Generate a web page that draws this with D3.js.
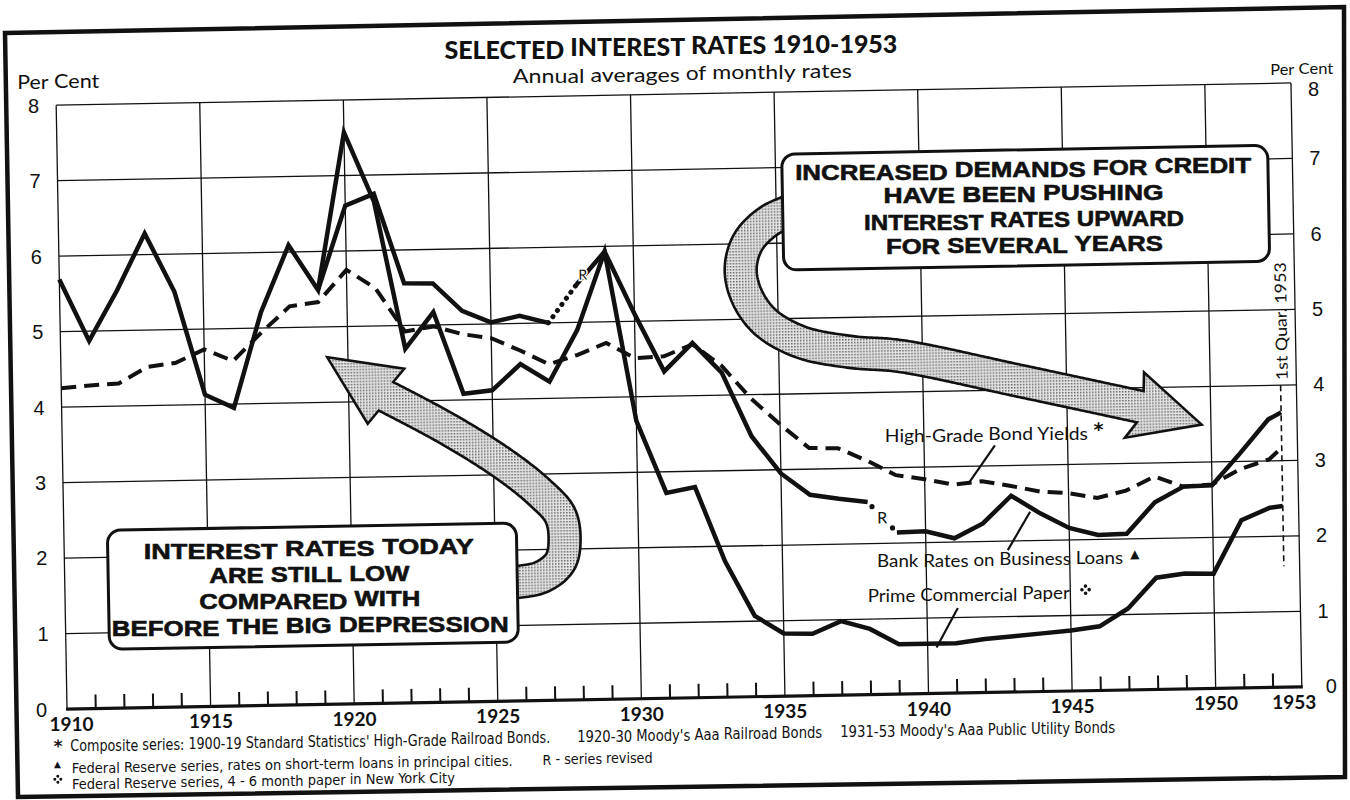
<!DOCTYPE html>
<html>
<head>
<meta charset="utf-8">
<script src="https://cdn.jsdelivr.net/npm/d3@7"></script>
<style>
  body { margin: 0; background: #fff; }
  svg { display: block; }
</style>
</head>
<body>
<script>
// values, per cent (annual averages of monthly rates)
const years = [1910, 1911, 1912, 1913, 1914, 1915, 1916, 1917, 1918, 1919,
               1920, 1921, 1922, 1923, 1924, 1925, 1926, 1927, 1928, 1929,
               1930, 1931, 1932, 1933, 1934, 1935, 1936, 1937, 1938, 1939,
               1940, 1941, 1942, 1943, 1944, 1945, 1946, 1947, 1948, 1949,
               1950, 1951, 1952];
const q1Pos = 1952.45;   // "1st Quar. 1953" point sits just right of 1952
const periods = years.concat([q1Pos]);

const bondYields = [4.25, 4.28, 4.30, 4.51, 4.56, 4.73, 4.57, 4.94, 5.28, 5.33,
                    5.75, 5.50, 4.92, 4.98, 4.87, 4.81, 4.64, 4.45, 4.57, 4.72,
                    4.51, 4.53, 4.68, 4.39, 3.95, 3.60, 3.28, 3.27, 3.10, 2.90,
                    2.84, 2.76, 2.80, 2.73, 2.65, 2.62, 2.55, 2.64, 2.82, 2.68,
                    2.70, 2.90, 3.02, 3.17];

const paperRates = [5.69, 4.87, 5.53, 6.28, 5.50, 4.13, 3.95, 5.21, 6.09, 5.49,
                    7.57, 6.65, 4.69, 5.17, 4.08, 4.12, 4.46, 4.22, 4.90, 5.93,
                    3.68, 2.72, 2.79, 1.80, 1.07, 0.83, 0.82, 0.98, 0.87, 0.66,
                    0.66, 0.66, 0.71, 0.74, 0.77, 0.80, 0.85, 1.08, 1.48, 1.53,
                    1.52, 2.22, 2.38, 2.40];

// bank rates begin in 1919
const bankStart = 9;
const bankRates = [5.49,
                   6.60, 6.75, 5.56, 5.55, 5.18, 5.02, 5.10, 5.00, 5.50, 5.93,
                   5.10, 4.33, 4.70, 4.30, 3.45, 2.95, 2.66, 2.60, 2.55, 2.14,
                   2.15, 2.05, 2.24, 2.60, 2.36, 2.16, 2.06, 2.07, 2.48, 2.68,
                   2.69, 3.11, 3.55, 3.64];
const revisedYears = [1927, 1938];   // bank series revised: segment from this year is dotted

const yTicks = [0, 1, 2, 3, 4, 5, 6, 7, 8];
const gridYears = [1910, 1915, 1920, 1925, 1930, 1935, 1940, 1945, 1950, 1953];
const yearLabels = ["1910", "1915", "1920", "1925", "1930", "1935", "1940", "1945", "1950", "1953"];

const INK = "#111";
const W = 1350, H = 800;
const TILT = 1.03;   // the scan is turned by about a degree

const svg = d3.select("body").append("svg")
    .attr("width", W)
    .attr("height", H);

svg.append("rect").attr("width", W).attr("height", H).attr("fill", "#fff");

const defs = svg.append("defs");
const pat = defs.append("pattern")
    .attr("id", "stipple")
    .attr("width", 3).attr("height", 3)
    .attr("patternUnits", "userSpaceOnUse");
pat.append("rect").attr("width", 3).attr("height", 3).attr("fill", "#e4e4e4");
pat.append("rect").attr("width", 1.5).attr("height", 1.5).attr("fill", "#666");

// outer frame of the page (scan is slightly skewed)
svg.append("path")
    .attr("d", "M5,33 L1344,7 L1345,777 L18,797 Z")
    .attr("fill", "none")
    .attr("stroke", INK)
    .attr("stroke-width", 4.5)
    .attr("stroke-linejoin", "miter");

const g = svg.append("g").attr("transform", `rotate(${-TILT},679,396)`);

const x = d3.scaleLinear().domain([1910, 1953]).range([61.5, 1296.5]);
const y = d3.scaleLinear().domain([0, 8]).range([698, 94]);

const LATO = "Lato, 'DejaVu Sans', sans-serif";
const ARIAL = "'Liberation Sans', Arial, sans-serif";
const NARROW = "'Liberation Sans Narrow', 'DejaVu Sans Condensed', 'Liberation Sans', sans-serif";

function styleText(sel, st) {
    sel.attr("font-family", st.family).attr("font-size", st.size).attr("fill", INK);
    if (st.weight) sel.attr("font-weight", st.weight);
    if (st.stroke) sel.attr("stroke", INK).attr("stroke-width", st.stroke);
    return sel;
}

// words placed one by one along the tilted baseline, glyphs kept upright,
// whole line stretched to the measured width (single spaces only)
function spread(xp, yp, anchor, str, width, st) {
    const probe = g.append("text").call(styleText, st).text(str);
    const node = probe.node();
    const k = width / node.getComputedTextLength();
    const x0 = anchor === "middle" ? xp - width / 2 : xp;
    const words = [];
    let idx = 0;
    str.split(" ").forEach(w => {
        const off = idx > 0 ? node.getSubStringLength(0, idx) : 0;
        words.push({ w: w, off: off, wl: node.getSubStringLength(idx, w.length) });
        idx += w.length + 1;
    });
    probe.remove();
    words.forEach(d => {
        const px = x0 + d.off * k;
        g.append("text")
            .attr("x", px).attr("y", yp)
            .attr("transform", `rotate(${TILT},${px},${yp})`)
            .attr("textLength", d.wl * k).attr("lengthAdjust", "spacingAndGlyphs")
            .call(styleText, st)
            .text(d.w);
    });
}

// titles
spread(677, 54.5, "middle", "SELECTED INTEREST RATES 1910-1953", 453,
    { family: LATO, size: 25, weight: 900 });
spread(688, 80, "middle", "Annual averages of monthly rates", 339,
    { family: LATO, size: 20 });
spread(23, 77, "start", "Per Cent", 82, { family: LATO, size: 19 });
spread(1276, 85.5, "start", "Per Cent", 63, { family: LATO, size: 16 });

// grid
g.selectAll(".hgrid").data(yTicks.slice(1)).join("line")
    .attr("x1", x(1910)).attr("x2", x(1953))
    .attr("y1", d => y(d)).attr("y2", d => y(d))
    .attr("stroke", INK).attr("stroke-width", 1.3);

g.selectAll(".vgrid").data(gridYears).join("line")
    .attr("x1", d => x(d)).attr("x2", d => x(d))
    .attr("y1", y(0)).attr("y2", y(8))
    .attr("stroke", INK).attr("stroke-width", 1.3);

g.append("line")
    .attr("x1", x(1910) - 1).attr("x2", x(1953) + 1)
    .attr("y1", y(0)).attr("y2", y(0))
    .attr("stroke", INK).attr("stroke-width", 3.2);

g.selectAll(".tick").data(years.filter(d => gridYears.indexOf(d) < 0)).join("line")
    .attr("x1", d => x(d)).attr("x2", d => x(d))
    .attr("y1", y(0)).attr("y2", y(0) - 14)
    .attr("stroke", INK).attr("stroke-width", 2);

// axis labels
const yLeftX = d => d === 0 ? 36 : 39;
const yRightX = d => d === 0 ? 1326 : 1319;
const yRightY = d => d === 8 ? y(d) + 6 : y(d);

g.selectAll(".ylabL").data(yTicks).join("text")
    .attr("x", yLeftX).attr("y", d => y(d) + 7)
    .attr("transform", d => `rotate(${TILT},${yLeftX(d)},${y(d)})`)
    .attr("text-anchor", "middle")
    .attr("font-family", ARIAL).attr("font-size", 20)
    .attr("fill", INK)
    .text(d => d);

g.selectAll(".ylabR").data(yTicks).join("text")
    .attr("x", yRightX).attr("y", d => yRightY(d) + 7)
    .attr("transform", d => `rotate(${TILT},${yRightX(d)},${yRightY(d)})`)
    .attr("text-anchor", "middle")
    .attr("font-family", ARIAL).attr("font-size", 20)
    .attr("fill", INK)
    .text(d => d);

const yearX = d => x(+d) + (d === "1910" ? 4 : d === "1953" ? -8 : 0);
g.selectAll(".xlab").data(yearLabels).join("text")
    .attr("x", yearX)
    .attr("y", 720)
    .attr("transform", d => `rotate(${TILT},${yearX(d)},720)`)
    .attr("text-anchor", "middle")
    .attr("font-family", LATO).attr("font-size", 19)
    .attr("font-weight", 700)
    .attr("fill", INK)
    .text(d => d);

// big stippled arrows
function arrowShape(pts, tip, halfBand, halfHead, sweep) {
    const probe = g.append("path")
        .attr("d", d3.line().curve(d3.curveCatmullRom.alpha(0.5))(pts))
        .attr("fill", "none");
    const node = probe.node();
    const len = node.getTotalLength();
    const s = [];
    for (let l = 0; l < len; l += 2) s.push(node.getPointAtLength(l));
    s.push(node.getPointAtLength(len));
    probe.remove();

    const left = [], right = [];
    s.forEach((p, i) => {
        const a = s[Math.max(0, i - 1)], b = s[Math.min(s.length - 1, i + 1)];
        const dx = b.x - a.x, dy = b.y - a.y, n = Math.hypot(dx, dy) || 1;
        const nx = -dy / n, ny = dx / n;
        left.push([p.x + nx * halfBand, p.y + ny * halfBand]);
        right.push([p.x - nx * halfBand, p.y - ny * halfBand]);
    });
    const e = s[s.length - 1];
    const ul = Math.hypot(tip[0] - e.x, tip[1] - e.y);
    const tx = (tip[0] - e.x) / ul, ty = (tip[1] - e.y) / ul;
    const nx = -ty, ny = tx;
    const barbL = [e.x + nx * halfHead - tx * sweep, e.y + ny * halfHead - ty * sweep];
    const barbR = [e.x - nx * halfHead - tx * sweep, e.y - ny * halfHead - ty * sweep];
    return d3.line()(left.concat([barbL, tip, barbR], right.reverse())) + "Z";
}

const arrowUp = arrowShape(
    [[803, 210], [773, 222], [751, 243], [743, 269], [748, 296], [766, 323],
     [801, 344], [851, 355], [901, 360], [1020, 387], [1140, 415]],
    [1201, 434], 16, 34, 6);
const arrowDown = arrowShape(
    [[497, 580], [537, 575], [557, 560], [562, 538], [558, 513], [538, 490],
     [504, 462], [449, 426], [386, 391]],
    [328, 351], 16, 33, 0);

[arrowUp, arrowDown].forEach(d => {
    g.append("path")
        .attr("d", d)
        .attr("fill", "url(#stipple)")
        .attr("stroke", INK)
        .attr("stroke-width", 2.6)
        .attr("stroke-linejoin", "miter");
});

// message boxes
const boxStyle = { family: ARIAL, size: 22, weight: 700, stroke: 0.6 };
function messageBox(x0, y0, x1, y1, lines, cx, baselines, widths) {
    g.append("rect")
        .attr("x", x0).attr("y", y0)
        .attr("width", x1 - x0).attr("height", y1 - y0)
        .attr("rx", 13).attr("ry", 13)
        .attr("fill", "#fff")
        .attr("stroke", INK)
        .attr("stroke-width", 3);
    lines.forEach((t, i) => spread(cx, baselines[i], "middle", t, widths[i], boxStyle));
}

messageBox(786, 156, 1272, 272,
    ["INCREASED DEMANDS FOR CREDIT", "HAVE BEEN PUSHING", "INTEREST RATES UPWARD", "FOR SEVERAL YEARS"],
    1027, [182, 207, 233, 258], [456, 280, 320, 277]);

messageBox(105, 520, 514, 639,
    ["INTEREST RATES TODAY", "ARE STILL LOW", "COMPARED WITH", "BEFORE THE BIG DEPRESSION"],
    306, [549, 575, 600, 626], [330, 200, 221, 397]);

// series
const line = d3.line().x(d => x(d[0])).y(d => y(d[1]));
const bondPts = periods.map((p, i) => [p, bondYields[i]]);
const paperPts = periods.map((p, i) => [p, paperRates[i]]);
const bankPts = bankRates.map((v, i) => [periods[bankStart + i], v]);

g.append("path")
    .attr("d", line(bondPts))
    .attr("fill", "none")
    .attr("stroke", INK)
    .attr("stroke-width", 4)
    .attr("stroke-dasharray", "15,8");

g.append("path")
    .attr("d", line(paperPts))
    .attr("fill", "none")
    .attr("stroke", INK)
    .attr("stroke-width", 4.5)
    .attr("stroke-linejoin", "miter")
    .attr("stroke-miterlimit", 4);

// bank rates: solid runs broken at the revised segments
const runs = [];
let cur = [bankPts[0]];
for (let i = 1; i < bankPts.length; i++) {
    if (revisedYears.indexOf(bankPts[i - 1][0]) >= 0) {
        runs.push(cur);
        cur = [bankPts[i]];
    } else {
        cur.push(bankPts[i]);
    }
}
runs.push(cur);
runs.forEach(r => {
    g.append("path")
        .attr("d", line(r))
        .attr("fill", "none")
        .attr("stroke", INK)
        .attr("stroke-width", 4.5)
        .attr("stroke-linejoin", "miter")
        .attr("stroke-miterlimit", 4);
});

function along(a, b, t) {
    return [x(a[0] + (b[0] - a[0]) * t), y(a[1] + (b[1] - a[1]) * t)];
}

// revised 1927-28: dotted, with R on the following rise
{
    const i = bankPts.findIndex(d => d[0] === 1927);
    g.append("path")
        .attr("d", line([bankPts[i], bankPts[i + 1]]))
        .attr("fill", "none")
        .attr("stroke", INK)
        .attr("stroke-width", 5)
        .attr("stroke-linecap", "round")
        .attr("stroke-dasharray", "0.1,7.5");
    const p = along(bankPts[i + 1], bankPts[i + 2], 0.3);
    g.append("text")
        .attr("x", p[0] - 2).attr("y", p[1] + 5)
        .attr("text-anchor", "middle")
        .attr("font-family", LATO).attr("font-size", 14)
        .attr("stroke", "#fff").attr("stroke-width", 3).attr("paint-order", "stroke")
        .attr("fill", INK)
        .text("R");
}
// revised 1938-39: dot, R, dot
{
    const i = bankPts.findIndex(d => d[0] === 1938);
    [0.15, 0.85].forEach(t => {
        const p = along(bankPts[i], bankPts[i + 1], t);
        g.append("circle").attr("cx", p[0]).attr("cy", p[1]).attr("r", 2.6).attr("fill", INK);
    });
    const p = along(bankPts[i], bankPts[i + 1], 0.5);
    g.append("text")
        .attr("x", p[0]).attr("y", p[1] + 6)
        .attr("text-anchor", "middle")
        .attr("font-family", LATO).attr("font-size", 16)
        .attr("fill", INK)
        .text("R");
}

// first quarter 1953 marker
g.append("line")
    .attr("x1", x(q1Pos)).attr("x2", x(q1Pos))
    .attr("y1", y(4.0)).attr("y2", y(1.6))
    .attr("stroke", INK).attr("stroke-width", 1.6)
    .attr("stroke-dasharray", "6,4");
g.append("text")
    .attr("transform", "translate(1288,332) rotate(-90)")
    .attr("text-anchor", "middle")
    .attr("font-family", LATO).attr("font-size", 16)
    .attr("textLength", 118).attr("lengthAdjust", "spacingAndGlyphs")
    .attr("fill", INK)
    .text("1st Quar. 1953");

// series labels with leaders
function leader(x1, y1, x2, y2) {
    g.append("line")
        .attr("x1", x1).attr("y1", y1).attr("x2", x2).attr("y2", y2)
        .attr("stroke", INK).attr("stroke-width", 2.2);
}
function fourDots(cx, cy, r, gap) {
    [[0, -gap], [-gap, 0], [gap, 0], [0, gap]].forEach(o => {
        g.append("circle").attr("cx", cx + o[0]).attr("cy", cy + o[1]).attr("r", r).attr("fill", INK);
    });
}
const seriesStyle = { family: LATO, size: 17 };

spread(884, 446, "start", "High-Grade Bond Yields", 203, seriesStyle);
g.append("text")
    .attr("x", 1098).attr("y", 444)
    .attr("text-anchor", "middle")
    .attr("font-family", "'DejaVu Sans', sans-serif").attr("font-size", 19).attr("font-weight", 700)
    .attr("fill", INK)
    .text("*");
leader(994, 451, 968, 487);

spread(874, 571, "start", "Bank Rates on Business Loans", 246, seriesStyle);
g.append("text")
    .attr("x", 1132).attr("y", 566)
    .attr("text-anchor", "middle")
    .attr("font-family", "'DejaVu Sans', sans-serif").attr("font-size", 12)
    .attr("fill", INK)
    .text("\u25B2");
leader(1028, 518, 1005, 556);

spread(864, 605, "start", "Prime Commercial Paper", 202, seriesStyle);
fourDots(1082, 597, 1.8, 3.6);
leader(954, 613, 932, 652);

// footnotes
const noteBig = { family: NARROW, size: 16 };
const noteSmall = { family: NARROW, size: 14 };
g.append("text")
    .attr("x", 52).attr("y", 741)
    .attr("text-anchor", "middle")
    .attr("font-family", "'DejaVu Sans', sans-serif").attr("font-size", 17).attr("font-weight", 700)
    .attr("fill", INK)
    .text("*");
spread(64, 740, "start", "Composite series: 1900-19 Standard Statistics' High-Grade Railroad Bonds.", 480, noteBig);
spread(571, 740, "start", "1920-30 Moody's Aaa Railroad Bonds", 245, noteBig);
spread(834, 740, "start", "1931-53 Moody's Aaa Public Utility Bonds", 275, noteBig);

g.append("text")
    .attr("x", 51).attr("y", 756)
    .attr("text-anchor", "middle")
    .attr("font-family", "'DejaVu Sans', sans-serif").attr("font-size", 9)
    .attr("fill", INK)
    .text("\u25B2");
spread(65, 762, "start", "Federal Reserve series, rates on short-term loans in principal cities.", 441, noteSmall);
spread(536, 762, "start", "R - series revised", 110, noteSmall);

fourDots(51, 768, 1.5, 3);
spread(65, 778, "start", "Federal Reserve series, 4 - 6 month paper in New York City", 383, noteSmall);
</script>
</body>
</html>
